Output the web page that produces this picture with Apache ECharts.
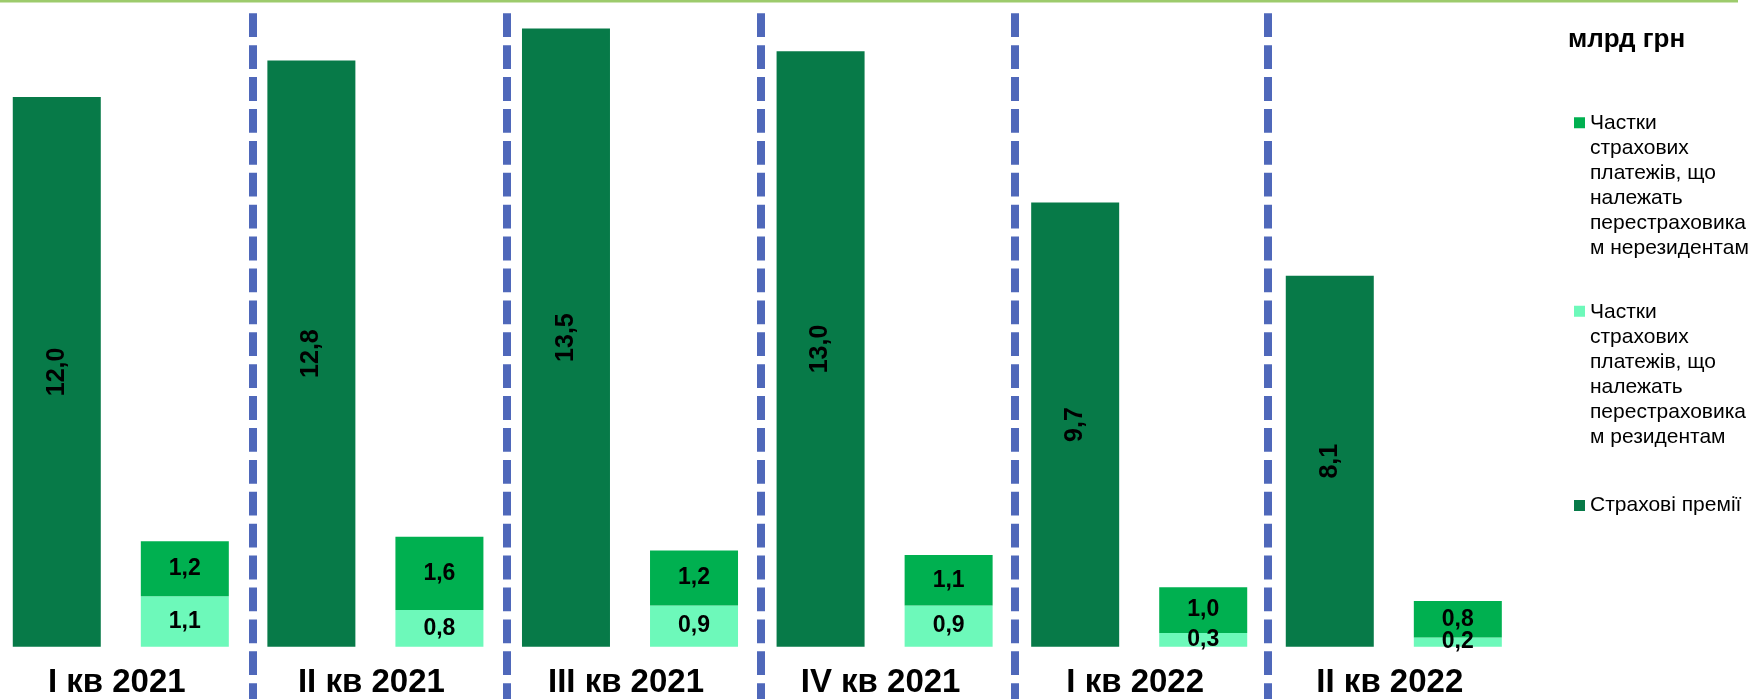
<!DOCTYPE html>
<html>
<head>
<meta charset="utf-8">
<script src="https://cdn.jsdelivr.net/npm/echarts@6/dist/echarts.min.js"></script>
<style>
html,body{margin:0;padding:0;background:#ffffff;}
#c{width:1753px;height:699px;}
</style>
</head>
<body>
<div id="c"></div>
<script>
// ---- data ----
const categories = ['I кв 2021', 'II кв 2021', 'III кв 2021', 'IV кв 2021', 'I кв 2022', 'II кв 2022'];
const premiums = [12.0, 12.8, 13.5, 13.0, 9.7, 8.1];
const residentShares = [1.1, 0.8, 0.9, 0.9, 0.3, 0.2];
const nonResidentShares = [1.2, 1.6, 1.2, 1.1, 1.0, 0.8];
const unitLabel = 'млрд грн';
const nameNonRes = 'Частки\nстрахових\nплатежів, що\nналежать\nперестраховика\nм нерезидентам';
const nameRes = 'Частки\nстрахових\nплатежів, що\nналежать\nперестраховика\nм резидентам';
const namePrem = 'Страхові премії';
const separatorSlots = [0, 1, 2, 3, 4, 5, 6];

// ---- styling ----
const FONT = "'Liberation Sans', Arial, sans-serif";
const fmt = p => Number(p.value).toFixed(1).replace('.', ',');
const LH = 25;
const blockH = LH * 6;
const iconPath = 'path://M0,0L0,0M0,6.3L11,6.3L11,17.3L0,17.3ZM0,' + blockH + 'L0,' + blockH;
const legendText = { fontSize: 21, lineHeight: LH, fontFamily: FONT, color: '#000' };

const chart = echarts.init(document.getElementById('c'), null, { renderer: 'canvas' });

chart.setOption({
  backgroundColor: '#ffffff',
  animation: false,
  title: {
    text: unitLabel,
    left: 1568,
    top: 26.7,
    padding: 0,
    textStyle: { fontSize: 26, fontWeight: 'bold', fontFamily: FONT, color: '#000', lineHeight: 26 }
  },
  legend: [
    { data: [nameNonRes], orient: 'vertical', left: 1574, top: 111, padding: 0,
      itemWidth: 11, itemHeight: blockH, icon: iconPath, selectedMode: false, textStyle: legendText },
    { data: [nameRes], orient: 'vertical', left: 1574, top: 299.5, padding: 0,
      itemWidth: 11, itemHeight: blockH, icon: iconPath, selectedMode: false, textStyle: legendText },
    { data: [namePrem], orient: 'vertical', left: 1574, top: 493, padding: 0,
      itemWidth: 11, itemHeight: 11, icon: 'rect', selectedMode: false, textStyle: legendText }
  ],
  graphic: [
    { type: 'rect', left: 0, top: 0, shape: { width: 1738, height: 2.5 }, style: { fill: '#9DCB6C' }, silent: true }
  ],
  grid: [
    { left: -6.5, width: 1527.6, top: 5.5, bottom: 52.3, outerBoundsMode: 'none', containLabel: false },
    { left: -0.75, width: 1522.5, top: 13.3, bottom: 0, outerBoundsMode: 'none', containLabel: false }
  ],
  xAxis: [
    {
      type: 'category', gridIndex: 0, data: categories,
      axisLine: { show: false }, axisTick: { show: false }, splitLine: { show: false },
      axisLabel: { fontSize: 33, fontWeight: 'bold', fontFamily: FONT, color: '#000', margin: 19,
        lineHeight: 34, interval: 0, padding: [0, 8, 0, 0] }
    },
    {
      type: 'value', gridIndex: 1, min: separatorSlots[0], max: separatorSlots[separatorSlots.length - 1], interval: 1,
      axisLine: { show: false }, axisTick: { show: false }, axisLabel: { show: false },
      splitLine: { show: true, showMinLine: false, showMaxLine: false,
        lineStyle: { color: '#4F68BA', width: 8, type: [23.8, 8.1] } }
    }
  ],
  yAxis: [
    { type: 'value', gridIndex: 0, min: 0, max: 14, show: false, splitLine: { show: false } },
    { type: 'value', gridIndex: 1, min: 0, max: 1, show: false, splitLine: { show: false } }
  ],
  series: [
    {
      name: namePrem, type: 'bar', stack: 'prem', xAxisIndex: 0, yAxisIndex: 0,
      data: premiums, barWidth: 88, barGap: '45.5%',
      itemStyle: { color: '#077A48' },
      label: { show: true, position: 'inside', rotate: 90, formatter: fmt,
        fontSize: 25, fontWeight: 'bold', fontFamily: FONT, color: '#000', textBorderWidth: 0 }
    },
    {
      name: nameRes, type: 'bar', stack: 'shares', xAxisIndex: 0, yAxisIndex: 0,
      data: residentShares, barWidth: 88, barGap: '45.5%',
      itemStyle: { color: '#6DF9BA' },
      label: { show: true, position: 'inside', formatter: fmt,
        fontSize: 23, fontWeight: 'bold', fontFamily: FONT, color: '#000', textBorderWidth: 0 }
    },
    {
      name: nameNonRes, type: 'bar', stack: 'shares', xAxisIndex: 0, yAxisIndex: 0,
      data: nonResidentShares, barWidth: 88, barGap: '45.5%',
      itemStyle: { color: '#00B050' },
      label: { show: true, position: 'inside', formatter: fmt,
        fontSize: 23, fontWeight: 'bold', fontFamily: FONT, color: '#000', textBorderWidth: 0 }
    }
  ]
});
</script>
</body>
</html>
